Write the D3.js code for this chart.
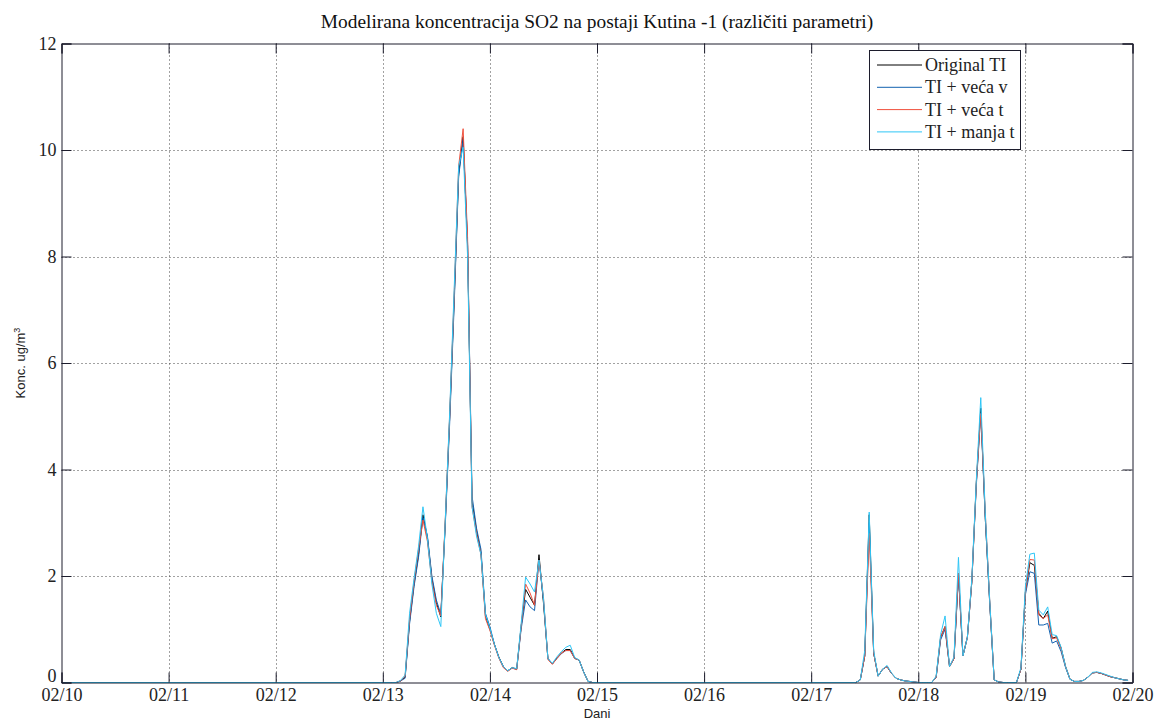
<!DOCTYPE html>
<html>
<head>
<meta charset="utf-8">
<script src="https://cdn.jsdelivr.net/npm/d3@7"></script>
<style>
	body { margin: 0; background: #fff; }
	svg { display: block; }
</style>
</head>
<body>
<div class="chart-wrapper"></div>
<script>

const dayLabels = ['02/10', '02/11', '02/12', '02/13', '02/14', '02/15', '02/16', '02/17', '02/18', '02/19', '02/20'];
const yTicks = [0, 2, 4, 6, 8, 10, 12];
const seriesNames = ['Original TI', 'TI + veća v', 'TI + veća t', 'TI + manja t'];

// hours since 02/10 00:00, two active windows, zero elsewhere
const hoursA = d3.range(74, 120);
const hoursB = d3.range(178, 240);

const originalA = [0,0,0.03,0.1,1.15,1.85,2.4,3.15,2.72,1.95, 1.5,1.23,3.0,5.0,7.2,9.55,10.25,8.2,3.4,2.85, 2.43,1.25,1.0,0.72,0.48,0.3,0.22,0.28,0.25,1.05, 1.75,1.6,1.45,2.4,1.5,0.45,0.35,0.46,0.55,0.62, 0.62,0.46,0.42,0.2,0.02,0];
const vecaVA = [0,0,0.03,0.08,1.1,1.8,2.35,3.1,2.75,2.0, 1.55,1.28,2.95,4.9,7.1,9.5,10.2,8.25,3.5,2.9, 2.5,1.3,1.05,0.72,0.47,0.3,0.22,0.27,0.25,1.0, 1.55,1.42,1.35,2.3,1.55,0.45,0.35,0.45,0.54,0.6, 0.6,0.45,0.42,0.2,0.02,0];
const vecaTA = [0,0,0.03,0.12,1.2,1.9,2.5,3.05,2.65,1.9, 1.45,1.25,3.05,5.05,7.3,9.7,10.4,8.35,3.3,2.8, 2.4,1.2,0.98,0.7,0.46,0.28,0.21,0.27,0.24,1.05, 1.85,1.68,1.45,2.3,1.6,0.43,0.34,0.45,0.55,0.6, 0.6,0.45,0.42,0.2,0.02,0];
const manjaTA = [0,0,0.04,0.14,1.3,1.95,2.55,3.3,2.7,1.85, 1.3,1.05,3.05,5.1,7.4,9.7,10.05,8.0,3.3,2.75, 2.4,1.28,1.02,0.72,0.47,0.3,0.22,0.28,0.26,1.1, 1.98,1.85,1.7,2.3,1.6,0.45,0.36,0.48,0.58,0.66, 0.7,0.47,0.42,0.2,0.02,0];

const originalB = [0,0.05,0.5,3.15,0.55,0.12,0.25,0.3,0.17,0.08, 0.05,0.03,0.02,0.01,0,0,0,0,0.1,0.85, 1.05,0.3,0.45,2.05,0.5,0.85,1.9,3.75,5.15,3.1, 1.5,0.05,0.01,0,0,0,0,0.25,1.7,2.25, 2.2,1.3,1.2,1.34,0.83,0.86,0.65,0.3,0.06,0.02, 0.02,0.04,0.1,0.18,0.19,0.17,0.14,0.11,0.09,0.07, 0.05,0.04];
const vecaVB = [0,0.05,0.5,3.0,0.55,0.12,0.25,0.3,0.17,0.08, 0.05,0.03,0.02,0.01,0,0,0,0,0.1,0.8, 1.0,0.3,0.45,2.0,0.5,0.85,1.9,3.7,5.05,3.1, 1.5,0.05,0.01,0,0,0,0,0.25,1.65,2.08, 2.05,1.08,1.08,1.11,0.74,0.78,0.58,0.28,0.06,0.02, 0.02,0.04,0.1,0.18,0.19,0.17,0.14,0.11,0.09,0.07, 0.05,0.04];
const vecaTB = [0,0.05,0.5,2.8,0.55,0.12,0.25,0.3,0.17,0.08, 0.05,0.03,0.02,0.01,0,0,0,0,0.1,0.85, 1.05,0.3,0.45,2.05,0.5,0.85,1.9,3.75,5.05,3.2, 1.55,0.05,0.01,0,0,0,0,0.25,1.7,2.31, 2.3,1.27,1.2,1.27,0.82,0.84,0.63,0.3,0.06,0.02, 0.02,0.04,0.1,0.18,0.19,0.17,0.14,0.11,0.09,0.07, 0.05,0.04];
const manjaTB = [0,0.05,0.6,3.2,0.6,0.12,0.25,0.32,0.18,0.08, 0.05,0.03,0.02,0.01,0,0,0,0,0.12,0.9, 1.25,0.3,0.48,2.35,0.5,0.85,1.95,3.8,5.35,3.2, 1.55,0.05,0.01,0,0,0,0,0.28,1.8,2.41, 2.43,1.36,1.27,1.42,0.9,0.88,0.66,0.3,0.06,0.02, 0.02,0.04,0.1,0.19,0.2,0.18,0.15,0.12,0.09,0.07, 0.05,0.04];

const colors = ['#000000', '#1262b0', '#f0503c', '#2ec6f6'];

const width = 1156;
const height = 720;
const plot = { left: 61.5, right: 1132.5, top: 43.5, bottom: 682.5 };

const hours = [0].concat(hoursA, hoursB);
const series = [
	[0].concat(originalA, originalB),
	[0].concat(vecaVA, vecaVB),
	[0].concat(vecaTA, vecaTB),
	[0].concat(manjaTA, manjaTB)
];

let svg = d3.select('.chart-wrapper').append('svg')
	.attr('width', width)
	.attr('height', height);

let x = d3.scaleLinear().domain([0, 240]).range([plot.left, plot.right]);
let y = d3.scaleLinear().domain([0, 12]).range([plot.bottom, plot.top]);

const serif = 'Liberation Serif, Times New Roman, serif';
const sans = 'Liberation Sans, Arial, sans-serif';
const axisColor = '#1c1c2c';

// grid
svg.append('g').selectAll('line').data(dayLabels.slice(1, -1)).join('line')
	.attr('x1', (d, i) => Math.round(x((i + 1) * 24)) + 0.5)
	.attr('x2', (d, i) => Math.round(x((i + 1) * 24)) + 0.5)
	.attr('y1', plot.top).attr('y2', plot.bottom)
	.attr('stroke', '#444').attr('stroke-dasharray', '1,3');

svg.append('g').selectAll('line').data(yTicks.slice(1, -1)).join('line')
	.attr('x1', plot.left).attr('x2', plot.right)
	.attr('y1', d => Math.round(y(d)) + 0.5)
	.attr('y2', d => Math.round(y(d)) + 0.5)
	.attr('stroke', '#444').attr('stroke-dasharray', '1,3');

// lines
let line = d3.line()
	.x((d, i) => x(hours[i]))
	.y(d => y(d));

series.forEach((s, k) => {
	svg.append('path')
		.attr('d', line(s))
		.attr('fill', 'none')
		.attr('stroke', colors[k])
		.attr('stroke-width', 1);
});

// axes box, ticks inward on all sides
let xAxisB = d3.axisBottom(x).tickValues(d3.range(0, 241, 24)).tickSize(-10).tickFormat((d, i) => dayLabels[i]).tickPadding(6);
let xAxisT = d3.axisTop(x).tickValues(d3.range(0, 241, 24)).tickSize(-10).tickFormat('');
let yAxisL = d3.axisLeft(y).tickValues(yTicks).tickSize(-10).tickPadding(16);
let yAxisR = d3.axisRight(y).tickValues(yTicks).tickSize(-10).tickFormat('');

const styleAxis = g => {
	g.selectAll('path').attr('stroke', axisColor);
	g.selectAll('line').attr('stroke', axisColor);
	g.selectAll('text').attr('fill', '#222').style('font-family', serif).style('font-size', '18px');
};

svg.append('g').attr('transform', `translate(0,${plot.bottom})`).call(xAxisB).call(styleAxis);
svg.append('g').attr('transform', `translate(0,${plot.top})`).call(xAxisT).call(styleAxis);
svg.append('g').attr('transform', `translate(${plot.left},0)`).call(yAxisL).call(styleAxis)
	.call(g => g.selectAll('text').attr('dx', '11px').attr('y', d => d === 0 ? -7 : 0));
svg.append('g').attr('transform', `translate(${plot.right},0)`).call(yAxisR).call(styleAxis);

svg.selectAll('.domain').attr('stroke', axisColor);

// title and labels
svg.append('text')
	.attr('x', (plot.left + plot.right) / 2).attr('y', 28)
	.attr('text-anchor', 'middle')
	.style('font-family', serif).style('font-size', '19.4px').attr('fill', '#111')
	.text('Modelirana koncentracija SO2 na postaji Kutina -1 (različiti parametri)');

svg.append('text')
	.attr('x', (plot.left + plot.right) / 2).attr('y', 718)
	.attr('text-anchor', 'middle')
	.style('font-family', sans).style('font-size', '13px').attr('fill', '#222')
	.text('Dani');

let yLabel = svg.append('text')
	.attr('transform', 'translate(25,363) rotate(-90)')
	.attr('text-anchor', 'middle')
	.style('font-family', sans).style('font-size', '13px').attr('fill', '#222');
yLabel.append('tspan').text('Konc. ug/m');
yLabel.append('tspan').attr('dy', '-5').style('font-size', '9px').text('3');

// legend
let legend = svg.append('g');
legend.append('rect')
	.attr('x', 869.5).attr('y', 50.5).attr('width', 151).attr('height', 99)
	.attr('fill', '#fff').attr('stroke', axisColor);

seriesNames.forEach((name, i) => {
	let cy = 65 + i * 22.3;
	legend.append('line')
		.attr('x1', 877).attr('x2', 922).attr('y1', cy).attr('y2', cy)
		.attr('stroke', colors[i]);
	legend.append('text')
		.attr('x', 925).attr('y', cy + 6)
		.style('font-family', serif).style('font-size', '18px').attr('fill', '#222')
		.text(name);
});

</script>
</body>
</html>
